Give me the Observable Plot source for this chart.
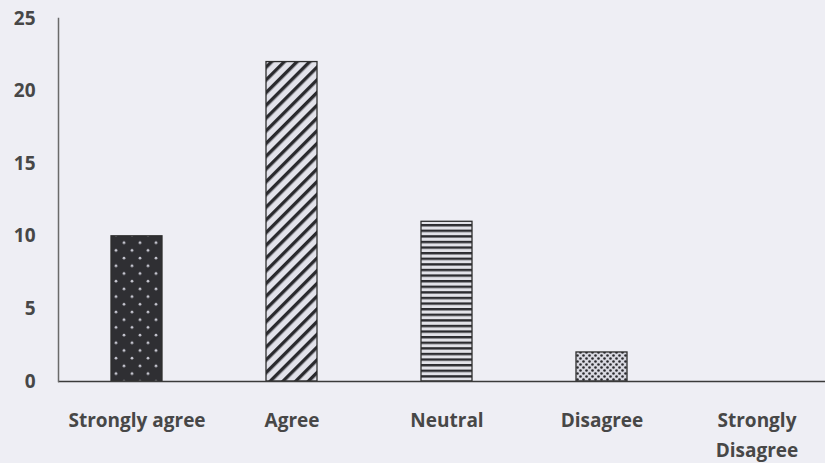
<!DOCTYPE html>
<html>
<head>
<meta charset="utf-8">
<script src="https://cdn.jsdelivr.net/npm/d3@7"></script>
<script src="https://cdn.jsdelivr.net/npm/@observablehq/plot@0.6"></script>
<style>
  html, body { margin: 0; padding: 0; background: #eeeef4; }
  #chart { width: 825px; height: 463px; }
  svg text { font-family: "Open Sans", sans-serif; }
</style>
</head>
<body>
<div id="chart"></div>
<script>
const categories = ["Strongly agree", "Agree", "Neutral", "Disagree", "Strongly Disagree"];
const values = [10, 22, 11, 2, 0];
const tickLabels = ["Strongly agree", "Agree", "Neutral", "Disagree", "Strongly\nDisagree"];
const yTicks = [0, 5, 10, 15, 20, 25];

const data = categories.map((c, i) => ({category: c, value: values[i], idx: i}));
const patternIds = ["pat-dots-dark", "pat-diag", "pat-horiz", "pat-dots-light", "pat-none"];

const chart = Plot.plot({
  width: 825,
  height: 463,
  marginLeft: 58,
  marginRight: 0,
  marginTop: 18,
  marginBottom: 82,
  style: {background: "#eeeef4", color: "#474747", fontWeight: 700},
  x: {domain: categories, range: [58, 835], paddingInner: 0.67, paddingOuter: 0.335, label: null},
  y: {domain: [0, 25], label: null},
  color: {type: "identity"},
  marks: [
    Plot.barY(data, {
      x: "category",
      y: "value",
      fill: d => "url(#" + patternIds[d.idx] + ")",
      stroke: "#2e2e2e",
      strokeWidth: 1.3
    }),
    Plot.axisY({ticks: yTicks, tickSize: 0, tickPadding: 23, label: null, fontSize: 19, fontWeight: 700}),
    Plot.axisX({tickSize: 0, tickPadding: 24, label: null, fontSize: 19, fontWeight: 700, lineHeight: 1.6,
      tickFormat: d => tickLabels[categories.indexOf(d)]}),
    Plot.ruleY([0], {stroke: "#3a3a3a", strokeWidth: 1.6}),
    Plot.frame({anchor: "left", stroke: "#6a6a6a", strokeWidth: 1.5})
  ]
});

// patterns
const ns = "http://www.w3.org/2000/svg";
const defs = document.createElementNS(ns, "defs");
defs.innerHTML = `
  <pattern id="pat-dots-dark" patternUnits="userSpaceOnUse" width="16" height="15.4">
    <rect width="16" height="15.4" fill="#2f2f33"/>
    <circle cx="4" cy="4" r="1.4" fill="#c4c4ce"/>
    <circle cx="12" cy="11.7" r="1.4" fill="#c4c4ce"/>
  </pattern>
  <pattern id="pat-diag" patternUnits="userSpaceOnUse" width="9" height="9" patternTransform="rotate(45)">
    <rect width="9" height="9" fill="#e2e2ea"/>
    <rect x="0" y="0" width="3.4" height="9" fill="#2a2a2e"/>
  </pattern>
  <pattern id="pat-horiz" patternUnits="userSpaceOnUse" width="10" height="5.6">
    <rect width="10" height="5.6" fill="#e2e2e8"/>
    <rect x="0" y="0" width="10" height="2.4" fill="#2c2c30"/>
  </pattern>
  <pattern id="pat-dots-light" patternUnits="userSpaceOnUse" width="6" height="6">
    <rect width="6" height="6" fill="#d8d8e0"/>
    <circle cx="1.5" cy="1.5" r="1.3" fill="#2a2a2e"/>
    <circle cx="4.5" cy="4.5" r="1.3" fill="#2a2a2e"/>
  </pattern>
  <pattern id="pat-none" patternUnits="userSpaceOnUse" width="4" height="4">
    <rect width="4" height="4" fill="#eeeef4"/>
  </pattern>`;
chart.insertBefore(defs, chart.firstChild);
document.getElementById("chart").appendChild(chart);
</script>
</body>
</html>
